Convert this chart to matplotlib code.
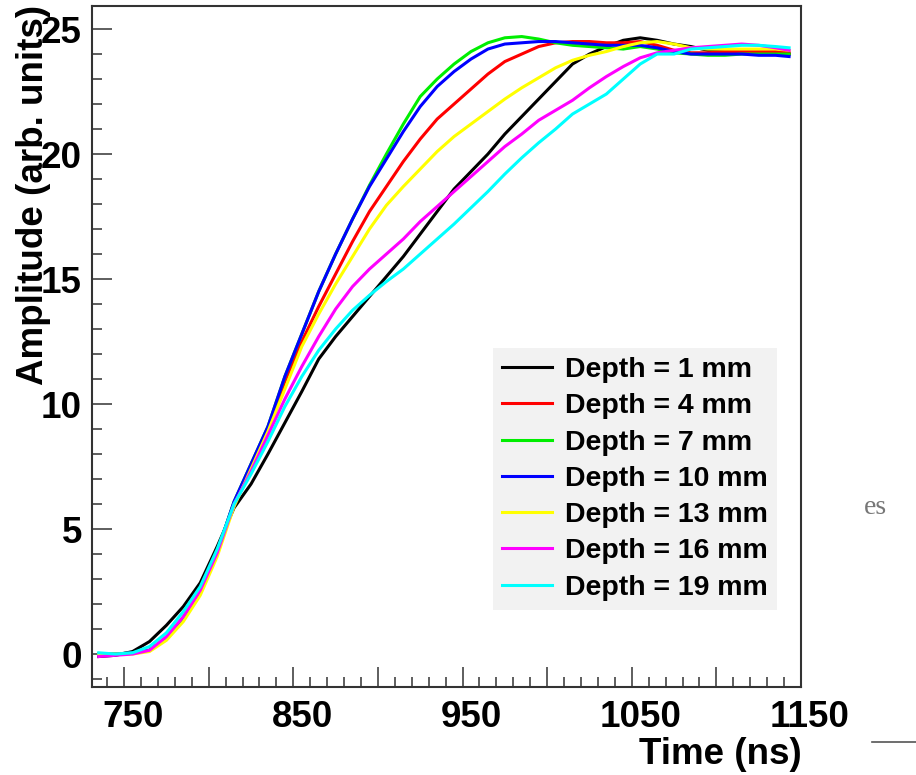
import numpy as np
import matplotlib
matplotlib.use("Agg")
import matplotlib.pyplot as plt
from matplotlib.ticker import MultipleLocator, FuncFormatter
from matplotlib.transforms import ScaledTranslation

plt.rcParams['font.family'] = ['Liberation Sans', 'DejaVu Sans']
plt.rcParams['font.weight'] = 'bold'

# time axis (ns)
t = [735, 745, 755, 765, 775, 785, 795, 805, 815, 825,
     835, 845, 855, 865, 875, 885, 895, 905, 915, 925,
     935, 945, 955, 965, 975, 985, 995, 1005, 1015, 1025,
     1035, 1045, 1055, 1065, 1075, 1085, 1095, 1105, 1115, 1125,
     1135, 1143]

d1 = [-0.1, -0.05, 0.1, 0.5, 1.15, 1.9, 2.85, 4.3, 5.85, 6.8,
      8.0, 9.25, 10.5, 11.8, 12.7, 13.5, 14.3, 15.1, 15.9, 16.8,
      17.7, 18.6, 19.3, 20.0, 20.8, 21.5, 22.2, 22.9, 23.6, 24.0,
      24.3, 24.55, 24.65, 24.55, 24.4, 24.3, 24.15, 24.1, 24.05, 24.05,
      24.05, 24.0]
d4 = [0.0, 0.0, 0.05, 0.15, 0.65, 1.45, 2.5, 4.05, 6.05, 7.5,
      9.0, 10.9, 12.5, 13.9, 15.2, 16.5, 17.7, 18.7, 19.7, 20.6,
      21.4, 22.0, 22.6, 23.2, 23.7, 24.0, 24.3, 24.45, 24.5, 24.5,
      24.45, 24.45, 24.5, 24.35, 24.15, 24.05, 24.05, 24.1, 24.1, 24.1,
      24.1, 24.05]
d7 = [0.0, 0.0, 0.05, 0.15, 0.65, 1.45, 2.5, 4.1, 6.1, 7.6,
      9.1, 11.1, 12.8, 14.5, 16.0, 17.4, 18.75, 20.0, 21.2, 22.3,
      23.0, 23.6, 24.1, 24.45, 24.65, 24.7, 24.6, 24.45, 24.35, 24.3,
      24.25, 24.2, 24.3, 24.2, 24.05, 24.0, 23.95, 23.95, 24.0, 24.0,
      24.0, 24.0]
d10 = [0.0, 0.0, 0.05, 0.15, 0.65, 1.45, 2.55, 4.1, 6.1, 7.6,
       9.1, 11.1, 12.8, 14.5, 16.0, 17.4, 18.7, 19.8, 20.9, 21.9,
       22.7, 23.3, 23.8, 24.2, 24.4, 24.45, 24.5, 24.5, 24.45, 24.4,
       24.35, 24.35, 24.35, 24.25, 24.1, 24.0, 24.0, 24.0, 24.0, 23.95,
       23.95, 23.9]
d13 = [0.0, 0.0, 0.0, 0.1, 0.55, 1.3, 2.35, 3.9, 5.9, 7.4,
       8.9, 10.6, 12.3, 13.6, 14.8, 15.9, 17.0, 17.95, 18.7, 19.4,
       20.1, 20.7, 21.2, 21.7, 22.2, 22.65, 23.05, 23.45, 23.75, 23.95,
       24.1, 24.3, 24.45, 24.5, 24.4, 24.25, 24.2, 24.2, 24.2, 24.2,
       24.2, 24.15]
d16 = [-0.1, -0.05, 0.0, 0.15, 0.7, 1.5, 2.55, 4.05, 6.0, 7.3,
       8.75, 10.2, 11.5, 12.7, 13.8, 14.7, 15.4, 16.0, 16.6, 17.3,
       17.9, 18.5, 19.1, 19.7, 20.3, 20.8, 21.35, 21.75, 22.15, 22.65,
       23.1, 23.5, 23.85, 24.05, 24.15, 24.25, 24.3, 24.35, 24.4, 24.35,
       24.25, 24.15]
d19 = [0.05, 0.0, 0.05, 0.3, 0.85, 1.7, 2.7, 4.2, 6.0, 7.2,
       8.5, 9.9, 11.1, 12.15, 13.0, 13.75, 14.35, 14.9, 15.4, 16.0,
       16.6, 17.2, 17.85, 18.5, 19.2, 19.85, 20.45, 21.0, 21.6, 22.0,
       22.4, 23.0, 23.6, 24.0, 24.0, 24.2, 24.25, 24.3, 24.35, 24.35,
       24.3, 24.25]

series = [d1, d4, d7, d10, d13, d16, d19]
labels = ["Depth = 1 mm", "Depth = 4 mm", "Depth = 7 mm", "Depth = 10 mm",
          "Depth = 13 mm", "Depth = 16 mm", "Depth = 19 mm"]
colors = ["#000000", "#ff0000", "#00ee00", "#0000ff", "#ffff00", "#ff00ff", "#00ffff"]

fig = plt.figure(figsize=(9.16, 7.75), dpi=100)
ax = fig.add_axes([0.1004, 0.1135, 0.7740, 0.8787])

for y, lab, c in zip(series, labels, colors):
    ax.plot(t, y, color=c, lw=2.2, label=lab)

ax.set_xlim(731, 1150)
ax.set_ylim(-1.32, 25.92)

ax.xaxis.set_major_locator(MultipleLocator(50))
ax.xaxis.set_minor_locator(MultipleLocator(10))
ax.yaxis.set_major_locator(MultipleLocator(5))
ax.yaxis.set_minor_locator(MultipleLocator(1))
ax.xaxis.set_major_formatter(FuncFormatter(
    lambda v, p: "%d" % v if abs((v - 750) % 100) < 1e-6 else ""))
ax.yaxis.set_major_formatter(FuncFormatter(lambda v, p: "%d" % v))

ax.tick_params(which='both', direction='in', top=False, right=False, color='#333333', width=1.1)
ax.tick_params(which='major', length=14.4)
ax.tick_params(which='minor', length=7.2)
ax.tick_params(axis='x', which='major', pad=9.5, labelsize=26.5)
ax.tick_params(axis='y', which='major', pad=7.2, labelsize=26.5)
for lab in ax.get_xticklabels() + ax.get_yticklabels():
    lab.set_fontweight('bold')
off = ScaledTranslation(9 / 100, 0, fig.dpi_scale_trans)
for lab in ax.get_xticklabels():
    lab.set_transform(lab.get_transform() + off)

for s in ax.spines.values():
    s.set_color('#333333')
    s.set_linewidth(1.5)

leg = ax.legend(loc='upper left', bbox_to_anchor=(0.5656, 0.4978), borderaxespad=0,
                prop={'weight': 'bold', 'size': 20.5}, frameon=True, fancybox=False,
                handlelength=1.75, handletextpad=0.45, labelspacing=0.36, borderpad=0.32)
leg.get_frame().set_facecolor('#f2f2f2')
leg.get_frame().set_edgecolor('none')
leg.get_frame().set_alpha(1)
for ln in leg.get_lines():
    ln.set_linewidth(2.2)

fig.text(0.0371, 1 - 5 / 775, "Amplitude (arb. units)", rotation=90, ha='center', va='top',
         fontsize=26.5, fontweight='bold')
fig.text(802 / 916, (775 - 764) / 775, "Time (ns)", ha='right', va='baseline',
         fontsize=26.5, fontweight='bold')

# stray bits of the surrounding page
fig.text(864 / 916, (775 - 514) / 775, "es", family=['Liberation Serif', 'DejaVu Serif'],
         fontweight='normal', fontsize=20, color='#777777', va='baseline')
fig.add_artist(plt.Line2D([872 / 916, 1.0], [(775 - 742) / 775] * 2,
                          transform=fig.transFigure, color='#555555', lw=1.2))

fig.savefig("out.png", dpi=100)
